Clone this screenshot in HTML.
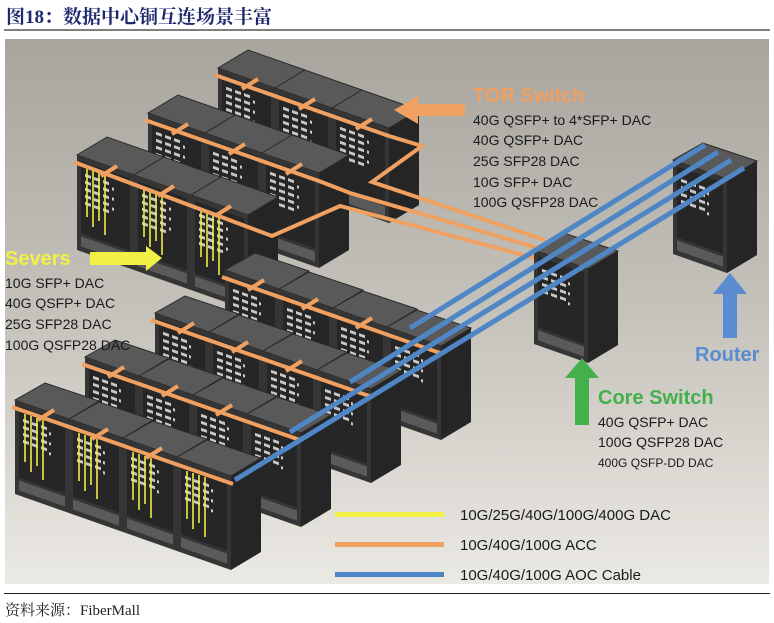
<!DOCTYPE html>
<html><head><meta charset="utf-8"><style>
html,body{margin:0;padding:0;background:#fff;}
body{width:774px;height:623px;overflow:hidden;position:relative;}
</style></head><body>
<svg width="774" height="623" viewBox="0 0 774 623" xmlns="http://www.w3.org/2000/svg" style="position:absolute;left:0;top:0">
<defs>
<linearGradient id="bg" x1="0" y1="0" x2="0" y2="1">
<stop offset="0" stop-color="#a7a59d"/><stop offset="0.5" stop-color="#c4c2ba"/><stop offset="1" stop-color="#ebe9e3"/>
</linearGradient>
<g id="rackA">
<path d="M0,0 L57,20 L87,2 L30,-18 Z" fill="#595959" stroke="#2a2a2a" stroke-width="1"/>
<path d="M57,20 L87,2 L87,97 L57,115 Z" fill="#252525"/>
<path d="M0,0 L57,20 L57,115 L0,95 Z" fill="#353535"/>
<g transform="skewY(19.3)">
<rect x="4" y="5" width="49" height="72" fill="#262626"/>
<g fill="#c8c8c8">
<rect x="8" y="16" width="6" height="3"/><rect x="17" y="16" width="6" height="3"/><rect x="26" y="16" width="6" height="3"/>
<rect x="8" y="23" width="6" height="3"/><rect x="17" y="23" width="6" height="3"/><rect x="26" y="23" width="6" height="3"/>
<rect x="8" y="30" width="6" height="3"/><rect x="17" y="30" width="6" height="3"/><rect x="26" y="30" width="6" height="3"/>
<rect x="8" y="37" width="6" height="3"/><rect x="17" y="37" width="6" height="3"/><rect x="26" y="37" width="6" height="3"/>
<rect x="8" y="44" width="6" height="3"/><rect x="17" y="44" width="6" height="3"/><rect x="26" y="44" width="6" height="3"/>
<rect x="35" y="20" width="2" height="3"/><rect x="35" y="30" width="2" height="3"/><rect x="35" y="40" width="2" height="3"/>
</g>
<rect x="4" y="80" width="49" height="10" fill="#5a5a5a"/>
</g>
</g>
<g id="rackB">
<path d="M0,0 L54,19 L84,1 L30,-17 Z" fill="#595959" stroke="#2a2a2a" stroke-width="1"/>
<path d="M54,19 L84,1 L84,95 L54,113 Z" fill="#252525"/>
<path d="M0,0 L54,19 L54,113 L0,94 Z" fill="#353535"/>
<g transform="skewY(19.4)">
<rect x="4" y="5" width="46" height="71" fill="#262626"/>
<g fill="#c8c8c8">
<rect x="8" y="16" width="6" height="3"/><rect x="17" y="16" width="6" height="3"/><rect x="26" y="16" width="6" height="3"/>
<rect x="8" y="23" width="6" height="3"/><rect x="17" y="23" width="6" height="3"/><rect x="26" y="23" width="6" height="3"/>
<rect x="8" y="30" width="6" height="3"/><rect x="17" y="30" width="6" height="3"/><rect x="26" y="30" width="6" height="3"/>
<rect x="8" y="37" width="6" height="3"/><rect x="17" y="37" width="6" height="3"/><rect x="26" y="37" width="6" height="3"/>
<rect x="34" y="20" width="2" height="3"/><rect x="34" y="30" width="2" height="3"/><rect x="34" y="40" width="2" height="3"/>
</g>
<rect x="4" y="79" width="46" height="10" fill="#5a5a5a"/>
</g>
</g>
<g id="yel" stroke="#eeee44" stroke-width="1.6">
<line x1="10" y1="14" x2="10" y2="62"/><line x1="16" y1="16" x2="16" y2="72"/><line x1="22" y1="18" x2="22" y2="66"/><line x1="28" y1="20" x2="28" y2="80"/>
</g>
</defs>

<text x="6" y="23" font-family="Liberation Serif, 'Noto Serif CJK SC', serif" font-size="19" font-weight="bold" fill="#1f2a6e">图18：数据中心铜互连场景丰富</text>
<rect x="4" y="29" width="766" height="2" fill="#7f7f7f"/>

<rect x="5" y="39" width="764" height="545" fill="url(#bg)"/>

<use href="#rackA" x="218" y="68"/><use href="#rackA" x="275" y="88"/><use href="#rackA" x="332" y="108"/>
<g stroke="#f0a060" stroke-width="4" fill="none">
<path d="M215,75 L389,136 L422,146 L372,182 L545,240"/>
<path d="M242,89 l16,-10 M299,109 l16,-10 M356,129 l16,-10"/>
</g>
<use href="#rackA" x="148" y="113"/><use href="#rackA" x="205" y="133"/><use href="#rackA" x="262" y="153"/>
<g stroke="#f0a060" stroke-width="4" fill="none">
<path d="M145,120 L319,181 L350,193 L545,250"/>
<path d="M172,134 l16,-10 M229,154 l16,-10 M286,174 l16,-10"/>
</g>
<use href="#rackA" x="77" y="155"/><use href="#rackA" x="134" y="175"/><use href="#rackA" x="191" y="195"/>
<use href="#yel" x="77" y="155"/><use href="#yel" x="134" y="175"/><use href="#yel" x="191" y="195"/>
<g stroke="#f0a060" stroke-width="4" fill="none">
<path d="M74,162 L272,236 L340,206 L542,260"/>
<path d="M101,176 l16,-10 M158,196 l16,-10 M215,216 l16,-10"/>
</g>

<use href="#rackB" x="534" y="250"/>
<use href="#rackB" x="673" y="160"/>

<use href="#rackB" x="225" y="270"/><use href="#rackB" x="279" y="289"/><use href="#rackB" x="333" y="308"/><use href="#rackB" x="387" y="327"/>
<g stroke="#f0a060" stroke-width="4" fill="none"><path d="M222,277 L440,353"/><path d="M248,290 l16,-10 M302,309 l16,-10 M356,328 l16,-10"/></g>
<use href="#rackB" x="155" y="313"/><use href="#rackB" x="209" y="332"/><use href="#rackB" x="263" y="351"/><use href="#rackB" x="317" y="370"/>
<g stroke="#f0a060" stroke-width="4" fill="none"><path d="M151,320 L372,397"/><path d="M178,333 l16,-10 M232,352 l16,-10 M286,371 l16,-10"/></g>
<use href="#rackB" x="85" y="357"/><use href="#rackB" x="139" y="376"/><use href="#rackB" x="193" y="395"/><use href="#rackB" x="247" y="414"/>
<g stroke="#f0a060" stroke-width="4" fill="none"><path d="M82,364 L300,440"/><path d="M108,377 l16,-10 M162,396 l16,-10 M216,415 l16,-10"/></g>
<use href="#rackB" x="15" y="400"/><use href="#rackB" x="69" y="419"/><use href="#rackB" x="123" y="438"/><use href="#rackB" x="177" y="457"/>
<use href="#yel" x="15" y="400"/><use href="#yel" x="69" y="419"/><use href="#yel" x="123" y="438"/><use href="#yel" x="177" y="457"/>
<g stroke="#f0a060" stroke-width="4" fill="none"><path d="M12,407 L233,484"/><path d="M38,420 l16,-10 M92,439 l16,-10 M146,458 l16,-10"/></g>

<g stroke="#4f86c6" stroke-width="5" stroke-linecap="butt">
<line x1="410" y1="328" x2="705" y2="145"/>
<line x1="350" y1="382" x2="718" y2="152"/>
<line x1="290" y1="432" x2="731" y2="160"/>
<line x1="235" y1="480" x2="744" y2="168"/>
</g>

<path d="M394,110 L418,96 L418,104 L465,104 L465,116 L418,116 L418,124 Z" fill="#f0a060"/>
<text x="473" y="102" font-family="Liberation Sans, sans-serif" font-size="20" font-weight="bold" fill="#f0a060">TOR Switch</text>
<g font-family="Liberation Sans, sans-serif" font-size="14" fill="#1a1a1a">
<text x="473" y="125">40G QSFP+ to 4*SFP+ DAC</text>
<text x="473" y="145">40G QSFP+ DAC</text>
<text x="473" y="166">25G SFP28 DAC</text>
<text x="473" y="187">10G SFP+ DAC</text>
<text x="473" y="207">100G QSFP28 DAC</text>
</g>

<path d="M162,258 L146,246 L146,252 L90,252 L90,265 L146,265 L146,271 Z" fill="#f3f045"/>
<text x="5" y="265" font-family="Liberation Sans, sans-serif" font-size="20" font-weight="bold" fill="#f3f045">Severs</text>
<g font-family="Liberation Sans, sans-serif" font-size="14" fill="#1a1a1a">
<text x="5" y="288">10G SFP+ DAC</text>
<text x="5" y="308">40G  QSFP+ DAC</text>
<text x="5" y="329">25G SFP28 DAC</text>
<text x="5" y="350">100G QSFP28 DAC</text>
</g>

<path d="M730,273 L747,294 L737,294 L737,338 L723,338 L723,294 L713,294 Z" fill="#5b8bd0"/>
<text x="695" y="361" font-family="Liberation Sans, sans-serif" font-size="20" font-weight="bold" fill="#5b8bd0">Router</text>

<path d="M582,358 L599,378 L589,378 L589,425 L575,425 L575,378 L565,378 Z" fill="#44b04c"/>
<text x="598" y="404" font-family="Liberation Sans, sans-serif" font-size="20" font-weight="bold" fill="#44b04c">Core Switch</text>
<g font-family="Liberation Sans, sans-serif" fill="#1a1a1a">
<text x="598" y="427" font-size="14">40G QSFP+ DAC</text>
<text x="598" y="447" font-size="14">100G QSFP28 DAC</text>
<text x="598" y="467" font-size="12">400G QSFP-DD DAC</text>
</g>

<rect x="335" y="512" width="109" height="5" fill="#f3f045"/>
<rect x="335" y="542" width="109" height="5" fill="#f0a060"/>
<rect x="335" y="572" width="109" height="5" fill="#4f86c6"/>
<g font-family="Liberation Sans, sans-serif" font-size="15" fill="#1a1a1a">
<text x="460" y="520">10G/25G/40G/100G/400G DAC</text>
<text x="460" y="550">10G/40G/100G ACC</text>
<text x="460" y="580">10G/40G/100G AOC Cable</text>
</g>

<rect x="4" y="593" width="766" height="1" fill="#222"/>
<text x="5" y="615" font-family="Liberation Serif, 'Noto Serif CJK SC', serif" font-size="15" fill="#222">资料来源：FiberMall</text>
</svg>
</body></html>
